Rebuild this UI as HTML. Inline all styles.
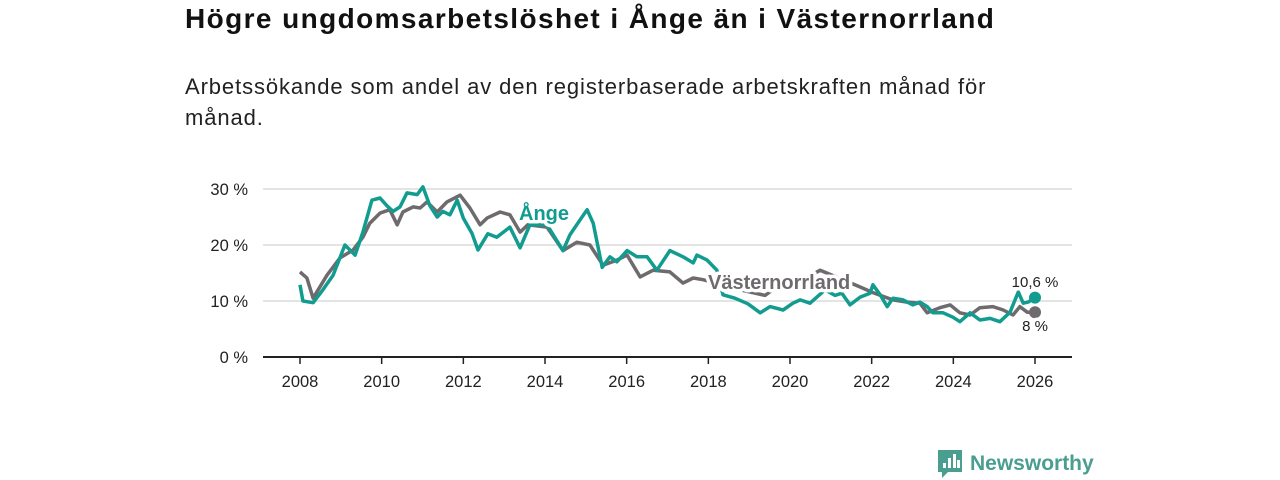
<!DOCTYPE html>
<html><head><meta charset="utf-8">
<style>
body{margin:0;width:1280px;height:480px;background:#fff;font-family:"Liberation Sans","DejaVu Sans",sans-serif;overflow:hidden;position:relative}
#title{position:absolute;left:185px;top:3px;font-size:28px;letter-spacing:1.4px;font-weight:bold;color:#111;margin:0;white-space:nowrap}
#sub{position:absolute;left:185px;top:71px;font-size:22px;letter-spacing:0.9px;line-height:31px;color:#222;width:860px;margin:0}
svg{position:absolute;left:0;top:0}
</style></head><body>
<h1 id="title">Högre ungdomsarbetslöshet i Ånge än i Västernorrland</h1>
<p id="sub">Arbetssökande som andel av den registerbaserade arbetskraften månad för månad.</p>
<svg id="chart" width="1280" height="480"></svg>
<script>
const xTicks=[2008,2010,2012,2014,2016,2018,2020,2022,2024,2026];
const yTicks=[0,10,20,30];
const angeYears=[2008.0,2008.07,2008.32,2008.56,2008.81,2009.10,2009.35,2009.54,2009.76,2009.96,2010.13,2010.28,2010.45,2010.62,2010.87,2011.01,2011.18,2011.36,2011.50,2011.67,2011.85,2012.0,2012.21,2012.36,2012.60,2012.82,2013.14,2013.39,2013.63,2014.05,2014.44,2014.61,2014.86,2015.03,2015.18,2015.40,2015.59,2015.76,2016.01,2016.25,2016.50,2016.74,2017.06,2017.38,2017.63,2017.72,2017.97,2018.21,2018.36,2018.65,2018.97,2019.27,2019.51,2019.83,2020.07,2020.25,2020.49,2020.86,2021.1,2021.27,2021.47,2021.72,2021.96,2022.03,2022.21,2022.38,2022.52,2022.77,2023.01,2023.18,2023.36,2023.50,2023.75,2023.99,2024.16,2024.41,2024.65,2024.90,2025.14,2025.39,2025.46,2025.59,2025.71,2025.83,2026.0];
const angeVals=[12.9,10,9.7,12,14.6,20,18.2,22.3,28,28.4,27,26,26.8,29.3,29,30.4,27,25,26,25.4,28,24.8,22.1,19.1,22,21.4,23.2,19.5,23.6,23.6,19,21.8,24.5,26.3,23.9,16,17.9,17,19,17.9,17.9,15.5,19,17.9,16.8,18.2,17.3,15.5,11.1,10.5,9.5,7.9,9,8.4,9.6,10.2,9.6,12,11,11.4,9.3,10.7,11.4,12.9,11.1,9,10.5,10.2,9.3,9.8,9,7.9,7.9,7.1,6.3,7.9,6.6,6.9,6.3,8,9.3,11.6,9.6,9.8,10.6];
const vnYears=[2008.0,2008.17,2008.32,2008.66,2008.98,2009.30,2009.54,2009.71,2009.96,2010.20,2010.38,2010.52,2010.77,2010.94,2011.11,2011.36,2011.60,2011.92,2012.16,2012.41,2012.58,2012.90,2013.14,2013.39,2013.58,2014.05,2014.44,2014.78,2015.10,2015.42,2015.76,2016.01,2016.33,2016.65,2017.06,2017.38,2017.63,2017.87,2018.29,2018.78,2019.39,2019.76,2020.25,2020.74,2021.23,2021.72,2022.03,2022.52,2022.87,2023.18,2023.36,2023.67,2023.92,2024.16,2024.41,2024.65,2024.97,2025.22,2025.46,2025.63,2025.81,2026.0];
const vnVals=[15.2,14.1,10.5,14.6,17.7,19.1,21.4,23.9,25.7,26.3,23.6,25.9,26.8,26.6,27.7,25.9,27.7,28.9,26.6,23.6,24.8,25.9,25.4,22.3,23.6,23.2,19,20.5,20,16.4,17.3,18.2,14.3,15.5,15.2,13.2,14.1,13.8,13,12,11,13,13.5,15.5,14,12.5,11.5,10.2,9.8,9.6,7.9,8.8,9.3,7.9,7.5,8.8,9,8.4,7.5,9,8,8];
const NS="http://www.w3.org/2000/svg";
const svg=document.getElementById('chart');
const X=y=>300+(y-2008)*(735/18);
const Y=v=>357-v*5.6;
function el(t,a,txt){const e=document.createElementNS(NS,t);for(const k in a)e.setAttribute(k,a[k]);if(txt!==undefined)e.textContent=txt;svg.appendChild(e);return e;}
yTicks.forEach(v=>{
  if(v>0){const g=el('line',{x1:263,x2:1072,y1:Y(v),y2:Y(v),stroke:'#dcdcdc','stroke-width':1.5});
  
  }
  const t=el('text',{x:248,y:Y(v)+6,'text-anchor':'end','font-size':16.5,fill:'#222'},v+' %');
  
  
});
const ax=el('line',{x1:263,x2:1072,y1:357,y2:357,stroke:'#222','stroke-width':2});


xTicks.forEach(y=>{
  const tk=el('line',{x1:X(y),x2:X(y),y1:357,y2:364,stroke:'#222','stroke-width':1.5});
  
  
  const t=el('text',{x:X(y),y:387,'text-anchor':'middle','font-size':16.5,fill:'#222'},y);
  
  
});
function line(ys,vs,c,name){
  const d=ys.map((y,i)=>(i?'L':'M')+X(y).toFixed(1)+','+Y(vs[i]).toFixed(1)).join('');
  const p=el('path',{d:d,fill:'none',stroke:c,'stroke-width':3.5,'stroke-linejoin':'round'});
  
  
  const n=ys.length-1;
  const dot=el('circle',{cx:X(ys[n]),cy:Y(vs[n]),r:6,fill:c});
  
  
}
line(vnYears,vnVals,'#6e6a6e','vasternorrland-line');
line(angeYears,angeVals,'#119c8f','ange-line');
function lab(x,y,txt,c,name,size,bold,anchor){
  const t=el('text',{x:x,y:y,'font-size':size,'font-weight':bold?'bold':'normal',fill:c,stroke:'#fff','stroke-width':7,'paint-order':'stroke','stroke-linejoin':'round','text-anchor':anchor||'start'},txt);
  
  
}
lab(519,220,'Ånge','#119c8f','ange-label',20,true);
lab(708,289,'Västernorrland','#6e6a6e','vasternorrland-label',20,true);
lab(1035,287,'10,6 %','#222','ange-end-value',15,false,'middle');
lab(1035,331,'8 %','#222','vasternorrland-end-value',15,false,'middle');
const g=el('g',{});


const r=document.createElementNS(NS,'path');r.setAttribute('d','M938,450h24v22h-14l-6,6v-6h-4z');r.setAttribute('fill','#4a9e8f');g.appendChild(r);
[[943,5],[948,10],[953,14],[957,8]].forEach(b=>{const q=document.createElementNS(NS,'rect');q.setAttribute('x',b[0]);q.setAttribute('y',468-b[1]);q.setAttribute('width',3);q.setAttribute('height',b[1]);q.setAttribute('fill','#fff');g.appendChild(q);});
const lt=document.createElementNS(NS,'text');lt.setAttribute('x',970);lt.setAttribute('y',470);lt.setAttribute('font-size',21);lt.setAttribute('font-weight','bold');lt.setAttribute('fill','#4a9e8f');lt.textContent='Newsworthy';g.appendChild(lt);
svg.appendChild(g);
</script>
</body></html>
